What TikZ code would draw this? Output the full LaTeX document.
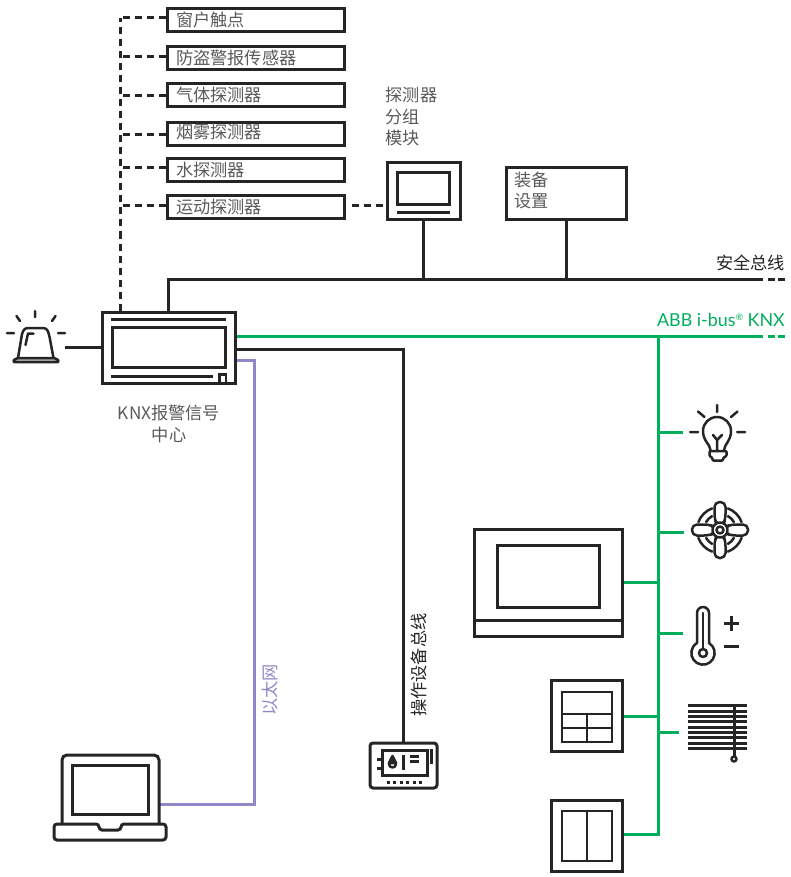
\documentclass[tikz,border=0pt]{standalone}
\usepackage{fontspec}
\usepackage[rgb]{xcolor}
\setmainfont{Noto Sans CJK SC}
\newfontfamily\latinfont{Lato}
\definecolor{inkblack}{HTML}{262425}
\definecolor{labelgray}{HTML}{5A5A5A}
\definecolor{knxgreen}{HTML}{00AE5B}
\definecolor{ethpurple}{HTML}{9087C8}
\tikzset{
  sensorbox/.style={draw=inkblack, line width=3pt, minimum height=23pt, text width=160pt, text height=13.5pt, text depth=2pt, inner xsep=8.5pt, inner ysep=0pt, align=left, font=\fontsize{17.2}{18}\selectfont, text=labelgray},
  devicebox/.style={draw=inkblack, line width=3pt, inner sep=0pt},
  iconbox/.style={inner sep=0pt, outer sep=0pt},
  label/.style={inner sep=0pt, font=\fontsize{17.2}{21.5}\selectfont, text=labelgray},
  buswire/.style={draw=inkblack, line width=3pt},
  knxwire/.style={draw=knxgreen, line width=3pt},
  ethwire/.style={draw=ethpurple, line width=3pt},
  sensorwire/.style={draw=inkblack, line width=3pt, dash pattern=on 7pt off 5pt},
  icon/.style={draw=inkblack, line width=2.5pt, line cap=round, line join=round},
  rawline/.style={draw=inkblack, line width=3pt},
}
\begin{document}
\begin{tikzpicture}[x=1pt, y=-1pt]
\useasboundingbox (0,0) rectangle (790,877);

%
% Sensors
%
\path
(256,20.5) node [sensorbox] (contact) {窗户触点}
(256,58.5) node [sensorbox] (burglar) {防盗警报传感器}
(256,95.5) node [sensorbox] (gas) {气体探测器}
(256,134.5) node [sensorbox] (smoke) {\raisebox{2pt}{烟雾探测器}}
(256,170.5) node [sensorbox] (water) {水探测器}
(256,207.5) node [sensorbox] (motion) {运动探测器};

% Detector module and equipment box
\path
(423.5,191) node [devicebox, minimum width=73pt, minimum height=57pt] (module) {}
(566,193.5) node [devicebox, minimum width=120pt, minimum height=52pt] (equipment) {};
\path
(385.5,95) node [label, anchor=west] (grouplabela) {探测器}
(385.5,117) node [label, anchor=west] (grouplabelb) {分组}
(385.5,138) node [label, anchor=west] (grouplabelc) {模块}
(514.5,180) node [label, anchor=west] (equiplabela) {装备}
(514.5,201) node [label, anchor=west] (equiplabelb) {设置};
\draw[rawline] (397.5,172.5) rectangle (449,205);
\draw[rawline] (397,212.5) -- (450,212.5);

%
% Alarm centre
%
\path
(168.5,347.75) node [devicebox, minimum width=133pt, minimum height=71.5pt] (centre) {};
\draw[rawline] (111,319) -- (226,319);
\draw[rawline] (112,327.5) rectangle (225,367);
\draw[rawline] (111,376) -- (213,376);
\draw[draw=inkblack, line width=2.5pt] (219.5,383) -- (219.5,374.5) -- (226,374.5) -- (226,383);
\path
(169,413) node [label] (centrelabela) {KNX报警信号}
(169,435) node [label] (centrelabelb) {中心};

% Alarm lamp
\path (35,347.75) node [iconbox, minimum width=60pt, minimum height=10pt] (alarm) {};
\draw[buswire] (alarm.east) -- (centre.west);
\draw[icon] (35,311) -- (35,317)  (16.5,316) -- (20,321)  (55.5,316) -- (52,321)
            (7,333) -- (14,333)  (58,333) -- (65,333);
\draw[icon] (18,358) -- (22,334) [rounded corners=3pt] -- (24.5,328) -- (46.5,328) -- (49,334) [sharp corners] -- (53.5,358);
\draw[icon] (25.5,345) -- (28,333.5) -- (33.5,333.5);
\draw[icon, fill=gray!60, rounded corners=2pt] (12.5,362) -- (16,358) -- (56,358) -- (59.5,362) -- cycle;

%
% Buses
%
\coordinate (sensortap) at (120,0);
\coordinate (safeend) at (763,279.5);
\coordinate (safetail) at (768,279.5);
\coordinate (knxend) at (763,336.75);
\coordinate (knxtail) at (768,336.75);
\coordinate (knxtap) at (658,336.75);
\coordinate (ethtap) at (254,804);

% Sensor lines
\draw[sensorwire] (centre.north -| sensortap) -- (sensortap |- 0,18) ;
\foreach \sensor/\ypos in {contact/18, burglar/57, gas/96, smoke/135, water/168, motion/206}
  \draw[sensorwire] (\sensor.west |- 0,\ypos) -- (sensortap |- 0,\ypos);
\draw[sensorwire] ([xshift=6pt]motion.east |- 0,206) -- (module.west |- 0,206);

% Safety bus
\draw[buswire] (centre.north) |- (safeend);
\draw[buswire] (module.south) -- (module.south |- safeend);
\draw[buswire] (equipment.south) -- (equipment.south |- safeend);
\draw[buswire, dash pattern=on 7pt off 3pt] (safetail) -- (785,279.5);
\path (785,263) node [label, anchor=east, text=inkblack] (safelabel) {安全总线};

% KNX bus
\draw[knxwire] (centre.east |- knxend) -- (knxend);
\draw[knxwire, dash pattern=on 7pt off 3pt] (knxtail) -- (785,336.75);
\path (785,320) node [label, anchor=east, text=knxgreen] (knxlabel) {\latinfont\fontsize{17.9}{18}\selectfont ABB i-bus\raisebox{6pt}{\fontsize{9}{9}\selectfont ®} KNX};

% Operating bus
\path (403.5,765.5) node [devicebox, rounded corners=3pt, minimum width=67pt, minimum height=45pt] (oppanel) {};
\draw[buswire] (centre.east |- 0,349) -| (oppanel.north);
\path (419,665) node [label, rotate=90, text=inkblack] (oplabel) {操作设备总线};

% Ethernet
\path (110.5,788.5) node [iconbox, minimum width=97pt, minimum height=69pt] (laptop) {};
\draw[ethwire] (centre.east |- 0,360) -| (ethtap) -- (laptop.east |- ethtap);
\path (270,690) node [label, rotate=90, text=ethpurple] (ethlabel) {以太网};

%
% Laptop
%
\draw[rawline, rounded corners=5pt] (62,824) -- (62,755) -- (159,755) -- (159,824);
\draw[rawline] (72.5,765) rectangle (148,814);
\draw[rawline, rounded corners=3pt] (54,824) -- (99,824) -- (99,830) -- (121,830) -- (121,824) -- (166,824) -- (166,840) -- (54,840) -- cycle;

%
% Operating panel
%
\draw[rawline] (382.5,750) rectangle (427,775);
\draw[rawline] (377,759) -- (382,759)  (377,768) -- (382,768);
\draw[rawline] (431.5,749) -- (431.5,764);
\draw[rawline] (403,755) -- (403,770);
\draw[rawline] (410,756.5) -- (419,756.5)  (410,761.5) -- (419,761.5);
\draw[icon, fill=white] (392.5,764) circle [radius=3.5];
\draw[icon, fill=inkblack] (392.5,756) -- (396,763) -- (389,763) -- cycle;
\foreach \xpos in {388,394.5,401,407.5,414,420.5}
  \fill[inkblack] (\xpos-1.5,780.5) rectangle (\xpos+1.5,783.5);

%
% KNX side
%
\draw[knxwire] (knxtap) |- (622,834);
\path
(548,582.5) node [devicebox, minimum width=148pt, minimum height=107pt] (panel) {}
(586.5,716) node [devicebox, minimum width=71pt, minimum height=71pt] (keypad) {}
(586.5,835.5) node [devicebox, minimum width=71pt, minimum height=71pt] (rocker) {}
(717,432) node [iconbox, minimum width=68pt, minimum height=10pt] (lamp) {}
(720,532) node [iconbox, minimum width=72pt, minimum height=10pt] (fan) {}
(712,633) node [iconbox, minimum width=58pt, minimum height=10pt] (thermo) {}
(717,732) node [iconbox, minimum width=76pt, minimum height=10pt] (blinds) {};

% Branches
\draw[knxwire] (panel.east) -- (panel.east -| knxtap);
\draw[knxwire] (keypad.east) -- (keypad.east -| knxtap);
\draw[knxwire] (lamp.west) -- (lamp.west -| knxtap);
\draw[knxwire] (fan.west) -- (fan.west -| knxtap);
\draw[knxwire] (thermo.west) -- (thermo.west -| knxtap);
\draw[knxwire] (blinds.west) -- (blinds.west -| knxtap);

% Touch panel
\draw[rawline] (497.5,545.5) rectangle (599,607);
\draw[rawline] (474,620) -- (622,620);

% Keypad
\draw[draw=inkblack, line width=2.5pt] (562,692) rectangle (612,742);
\draw[draw=inkblack, line width=2.5pt] (562,714) -- (612,714)  (562,728) -- (612,728)  (587,714) -- (587,742);

% Rocker
\draw[draw=inkblack, line width=2.5pt] (562,811) rectangle (612,861);
\draw[draw=inkblack, line width=2.5pt] (587,811) -- (587,861);

% Lamp
\draw[icon] (717,405) -- (717,412)  (698,411.5) -- (704.5,417)  (737.5,411.5) -- (731,417)
            (690,432) -- (698,432)  (737,432) -- (745,432);
\draw[icon] (710.5,450) .. controls (710,444) and (703,441) .. (703,431)
  arc [start angle=180, end angle=360, radius=14]
  .. controls (731,441) and (724.5,444) .. (724,450);
\draw[icon] (717,450) -- (717,440) -- (713,435)  (717,440) -- (722,435);
\draw[icon, rounded corners=1pt] (709.5,451) -- (726.5,451) -- (726.5,456) -- (723,458) -- (723,460.5) -- (712.5,460.5) -- (712.5,458) -- (709.5,456) -- cycle;

% Fan
\foreach \ang in {45,135,225,315} {
  \draw[icon] (720,530) ++(\ang-25:23) arc [start angle=\ang-25, end angle=\ang+25, radius=23];
  \draw[icon] (720,530) ++(\ang-15:16) arc [start angle=\ang-15, end angle=\ang+15, radius=16];
}
\foreach \ang in {0,90,180,270}
  \filldraw[icon, fill=white, rounded corners=5pt, rotate around={\ang:(720,530)}]
    (725,527) -- (731,524.5) -- (748,524.5) -- (748,535.5) -- (731,535.5) -- (725,533) -- cycle;
\filldraw[icon, fill=white] (720,530) circle [radius=7.5];
\draw[icon] (720,530) circle [radius=3.5];

% Thermometer
\draw[icon] (697,643) -- (697,613) arc [start angle=180, end angle=360, radius=6] -- (709,643)
  arc [start angle=-59, end angle=239, radius=11.66] -- cycle;
\draw[icon] (703,653) circle [radius=4];
\draw[icon] (703,613) -- (703,648);
\draw[rawline] (723.5,623) -- (738.5,623)  (731,615.5) -- (731,630.5);
\draw[rawline] (723.5,646) -- (738.5,646);

% Blinds
\foreach \row in {0,...,8}
  \draw[rawline] (688,705.7+\row*5.33) -- (747,705.7+\row*5.33);
\draw[rawline] (734,705) -- (734,756);
\draw[icon] (734,759) circle [radius=2.5];

\end{tikzpicture}
\end{document}
